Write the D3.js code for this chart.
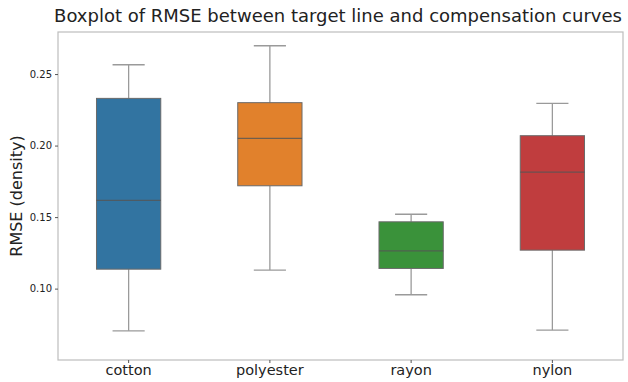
<!DOCTYPE html>
<html>
<head>
<meta charset="utf-8">
<script src="https://cdn.jsdelivr.net/npm/d3@7"></script>
<style>
  html, body { margin: 0; padding: 0; background: #fff; }
  svg { display: block; font-family: "DejaVu Sans", sans-serif; }
</style>
</head>
<body>
<svg id="chart" width="628" height="382"></svg>
<script>
// Fabric categories and their box statistics (RMSE, density)
const categories = ["cotton", "polyester", "rayon", "nylon"];
const whiskerLow  = [0.0705, 0.113, 0.0957, 0.071];
const q1          = [0.1136, 0.1719, 0.1141, 0.1269];
const median      = [0.1617, 0.205, 0.1264, 0.1815];
const q3          = [0.233, 0.230, 0.1467, 0.2069];
const whiskerHigh = [0.2565, 0.2698, 0.152, 0.2295];
const colors      = ["#3274a1", "#e1812c", "#3a923a", "#c03d3e"];
const yTicks      = [0.10, 0.15, 0.20, 0.25];

const margin = { left: 58, right: 5, top: 32, bottom: 22 };
const W = 628, H = 382;

const svg = d3.select("#chart");

const x = d3.scaleBand()
  .domain(categories)
  .range([margin.left, W - margin.right])
  .paddingInner(0)
  .paddingOuter(0);

const y = d3.scaleLinear()
  .domain([0.0501, 0.2794])
  .range([H - margin.bottom, margin.top]);

const boxW = x.bandwidth() * 0.455;
const capW = boxW * 0.5;

const data = categories.map((c, i) => ({
  cat: c, lo: whiskerLow[i], q1: q1[i], med: median[i], q3: q3[i], hi: whiskerHigh[i], color: colors[i]
}));

const g = svg.append("g");

// whiskers and caps
const whiskerColor = "#9a9a9a";
data.forEach(d => {
  const cx = x(d.cat) + x.bandwidth() / 2;
  g.append("line").attr("x1", cx).attr("x2", cx)
    .attr("y1", y(d.q3)).attr("y2", y(d.hi))
    .attr("stroke", whiskerColor).attr("stroke-width", 1.3);
  g.append("line").attr("x1", cx).attr("x2", cx)
    .attr("y1", y(d.q1)).attr("y2", y(d.lo))
    .attr("stroke", whiskerColor).attr("stroke-width", 1.3);
  g.append("line").attr("x1", cx - capW / 2).attr("x2", cx + capW / 2)
    .attr("y1", y(d.hi)).attr("y2", y(d.hi))
    .attr("stroke", whiskerColor).attr("stroke-width", 1.3);
  g.append("line").attr("x1", cx - capW / 2).attr("x2", cx + capW / 2)
    .attr("y1", y(d.lo)).attr("y2", y(d.lo))
    .attr("stroke", whiskerColor).attr("stroke-width", 1.3);
});

// boxes
g.selectAll("rect.box").data(data).join("rect")
  .attr("class", "box")
  .attr("x", d => x(d.cat) + x.bandwidth() / 2 - boxW / 2)
  .attr("y", d => y(d.q3))
  .attr("width", boxW)
  .attr("height", d => y(d.q1) - y(d.q3))
  .attr("fill", d => d.color)
  .attr("stroke", "#6a6a6a")
  .attr("stroke-width", 1);

// medians
g.selectAll("line.med").data(data).join("line")
  .attr("class", "med")
  .attr("x1", d => x(d.cat) + x.bandwidth() / 2 - boxW / 2)
  .attr("x2", d => x(d.cat) + x.bandwidth() / 2 + boxW / 2)
  .attr("y1", d => y(d.med)).attr("y2", d => y(d.med))
  .attr("stroke", "#555").attr("stroke-width", 1.2).attr("stroke-opacity", 0.8);

// frame
svg.append("rect")
  .attr("x", margin.left).attr("y", margin.top)
  .attr("width", W - margin.left - margin.right)
  .attr("height", H - margin.top - margin.bottom)
  .attr("fill", "none").attr("stroke", "#bdbdbd").attr("stroke-width", 1.2);

// y axis
const yAxis = svg.append("g")
  .attr("transform", `translate(${margin.left},0)`)
  .call(d3.axisLeft(y).tickValues(yTicks).tickFormat(d3.format(".2f")).tickSize(3).tickPadding(3));
yAxis.select(".domain").remove();
yAxis.selectAll(".tick line").attr("stroke", "#555");
yAxis.selectAll(".tick text").attr("font-size", 10).attr("fill", "#222")
  .attr("font-family", "DejaVu Sans, sans-serif");

// x axis
const xAxis = svg.append("g")
  .attr("transform", `translate(0,${H - margin.bottom})`)
  .call(d3.axisBottom(x).tickSize(3).tickPadding(2));
xAxis.select(".domain").remove();
xAxis.selectAll(".tick line").attr("stroke", "#555");
xAxis.selectAll(".tick text").attr("font-size", 14.5).attr("fill", "#222")
  .attr("font-family", "DejaVu Sans, sans-serif");

// y label
svg.append("text")
  .attr("transform", `translate(22,${(margin.top + H - margin.bottom) / 2}) rotate(-90)`)
  .attr("text-anchor", "middle")
  .attr("font-size", 16)
  .attr("fill", "#222")
  .text("RMSE (density)");

// title
svg.append("text")
  .attr("x", 338).attr("y", 22)
  .attr("text-anchor", "middle")
  .attr("font-size", 18)
  .attr("fill", "#222")
  .text("Boxplot of RMSE between target line and compensation curves");
</script>
</body>
</html>
